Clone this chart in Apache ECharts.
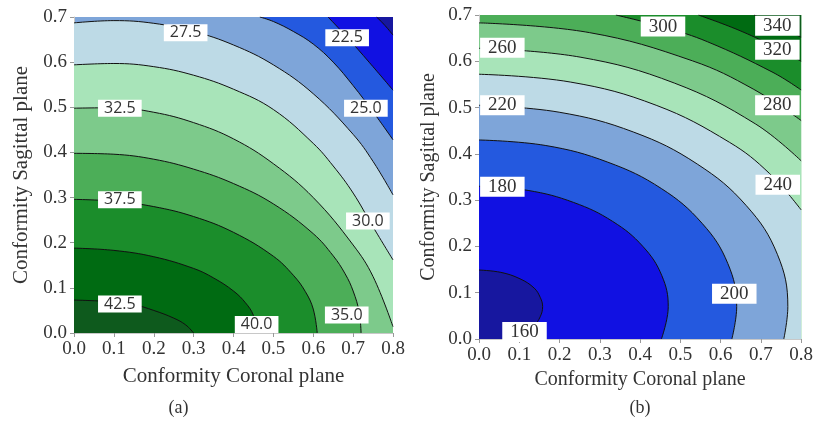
<!DOCTYPE html>
<html>
<head>
<meta charset="utf-8">
<script src="https://cdn.jsdelivr.net/npm/echarts@6/dist/echarts.min.js"></script>
<style>
html,body{margin:0;padding:0;background:#fff;}
#chart{width:816px;height:423px;}
</style>
</head>
<body>
<div id="chart"></div>
<script>
// ---------- Panel (a): contour lines [x, y] ----------
const contourA_20_0 = [[0.759,0.700],[0.780,0.681],[0.800,0.660]];
const contourA_22_5 = [[0.637,0.700],[0.685,0.655],[0.740,0.600],[0.800,0.538]];
const contourA_25_0 = [[0.466,0.700],[0.500,0.690],[0.550,0.668],[0.600,0.640],[0.650,0.600],[0.700,0.548],[0.750,0.490],[0.800,0.428]];
const contourA_27_5 = [[0,0.687],[0.1,0.692],[0.2,0.686],[0.3,0.668],[0.4,0.638],[0.5,0.594],[0.6,0.530],[0.7,0.440],[0.75,0.380],[0.8,0.306]];
const contourA_30_0 = [[0,0.594],[0.1,0.597],[0.2,0.590],[0.3,0.571],[0.4,0.540],[0.5,0.495],[0.6,0.420],[0.65,0.370],[0.7,0.310],[0.75,0.235],[0.8,0.162]];
const contourA_32_5 = [[0,0.498],[0.1,0.499],[0.2,0.489],[0.3,0.466],[0.4,0.430],[0.5,0.375],[0.6,0.300],[0.7,0.195],[0.75,0.125],[0.8,0.014]];
const contourA_35_0 = [[0,0.398],[0.1,0.396],[0.2,0.385],[0.3,0.363],[0.4,0.331],[0.5,0.286],[0.6,0.220],[0.65,0.171],[0.68,0.131],[0.70,0.093],[0.715,0.047],[0.72,0]];
const contourA_37_5 = [[0,0.296],[0.1,0.292],[0.2,0.280],[0.3,0.258],[0.4,0.223],[0.5,0.170],[0.55,0.128],[0.58,0.092],[0.60,0.053],[0.61,0]];
const contourA_40_0 = [[0,0.188],[0.1,0.183],[0.2,0.169],[0.3,0.143],[0.35,0.122],[0.4,0.093],[0.43,0.067],[0.45,0.039],[0.46,0]];
const contourA_42_5 = [[0,0.073],[0.1,0.069],[0.15,0.063],[0.2,0.050],[0.25,0.033],[0.28,0.018],[0.30,0]];
// contour labels: [text, x, y]
const labelsA = [['27.5',0.280,0.665],['22.5',0.685,0.654],['25.0',0.732,0.498],['32.5',0.115,0.498],['30.0',0.737,0.248],['37.5',0.115,0.295],['35.0',0.684,0.040],['42.5',0.115,0.064],['40.0',0.458,0.019]];

// ---------- Panel (b) ----------
const contourB_160 = [[0,0.149],[0.054,0.144],[0.102,0.130],[0.137,0.110],[0.152,0.090],[0.158,0.070],[0.152,0.048],[0.137,0.030],[0.102,0.010],[0.073,0]];
const contourB_180 = [[0,0.330],[0.122,0.321],[0.235,0.295],[0.332,0.254],[0.407,0.200],[0.454,0.137],[0.470,0.070],[0.453,0]];
const contourB_200 = [[0,0.430],[0.166,0.418],[0.320,0.382],[0.453,0.325],[0.554,0.250],[0.618,0.163],[0.640,0.070],[0.628,0]];
const contourB_220 = [[0,0.505],[0.199,0.490],[0.384,0.447],[0.542,0.378],[0.664,0.288],[0.741,0.183],[0.767,0.070],[0.757,0]];
const contourB_240 = [[0,0.572],[0.228,0.555],[0.440,0.505],[0.622,0.425],[0.721,0.358],[0.800,0.279]];
const contourB_260 = [[0,0.628],[0.251,0.609],[0.485,0.553],[0.686,0.465],[0.800,0.385]];
const contourB_280 = [[0,0.683],[0.274,0.662],[0.530,0.601],[0.681,0.540],[0.800,0.472]];
const contourB_300 = [[0.340,0.700],[0.462,0.673],[0.568,0.642],[0.730,0.576],[0.800,0.538]];
const contourB_320 = [[0.545,0.700],[0.643,0.668],[0.730,0.633],[0.800,0.600]];
const contourB_340 = [[0.683,0.700],[0.734,0.680],[0.800,0.652]];
const labelsB = [['300',0.457,0.675],['340',0.741,0.677],['320',0.741,0.625],['260',0.058,0.629],['280',0.741,0.505],['220',0.058,0.505],['240',0.742,0.333],['180',0.058,0.329],['200',0.634,0.098],['160',0.113,0.015]];

// band colours, low value -> high value
const bandColors = ['#17179f','#1111e2','#2459df','#7ea5d9','#bddae6','#a8e4b9','#7dca8b','#4cae58','#1b8d2b','#006b12','#0e5a1d'];

const xTicks = {min:0, max:0.8, interval:0.1};
const yTicks = {min:0, max:0.7, interval:0.1};
const axisTitleX = 'Conformity Coronal plane';
const axisTitleY = 'Conformity Sagittal plane';

const SERIF = '"Liberation Serif", "Times New Roman", serif';

function contourSeries(idx, data, color, origin) {
  return {
    type: 'line', xAxisIndex: idx, yAxisIndex: idx, data: data,
    smooth: 0.4, showSymbol: false, symbol: 'none', silent: true,
    lineStyle: {color: '#111', width: 1},
    areaStyle: {color: color, opacity: 1, origin: origin},
    z: 2, animation: false
  };
}
function labelSeries(idx, labels, font, size, pad) {
  return {
    type: 'scatter', xAxisIndex: idx, yAxisIndex: idx, symbolSize: 0, z: 10, silent: true,
    itemStyle: {opacity: 1, color: '#fff'},
    data: labels.map(d => [d[1], d[2], d[0]]),
    label: {show: true, position: 'inside', formatter: p => p.value[2], opacity: 1,
      backgroundColor: '#ffffff', padding: pad, fontFamily: font, fontSize: size,
      color: '#333', lineHeight: size}
  };
}

const series = [
  // panel (a): background = band 25–27.5; outer bands filled above, inner below
  contourSeries(0, contourA_25_0, bandColors[2], 'end'),
  contourSeries(0, contourA_22_5, bandColors[1], 'end'),
  contourSeries(0, contourA_20_0, bandColors[0], 'end'),
  contourSeries(0, contourA_27_5, bandColors[4], 'start'),
  contourSeries(0, contourA_30_0, bandColors[5], 'start'),
  contourSeries(0, contourA_32_5, bandColors[6], 'start'),
  contourSeries(0, contourA_35_0, bandColors[7], 'start'),
  contourSeries(0, contourA_37_5, bandColors[8], 'start'),
  contourSeries(0, contourA_40_0, bandColors[9], 'start'),
  contourSeries(0, contourA_42_5, bandColors[10], 'start'),
  labelSeries(0, labelsA, '"Open Sans", sans-serif', 16, [1,6,0,6]),
  // panel (b): background = band 280–300
  contourSeries(1, contourB_300, bandColors[8], 'end'),
  contourSeries(1, contourB_320, bandColors[9], 'end'),
  contourSeries(1, contourB_340, bandColors[10], 'end'),
  contourSeries(1, contourB_280, bandColors[6], 'start'),
  contourSeries(1, contourB_260, bandColors[5], 'start'),
  contourSeries(1, contourB_240, bandColors[4], 'start'),
  contourSeries(1, contourB_220, bandColors[3], 'start'),
  contourSeries(1, contourB_200, bandColors[2], 'start'),
  contourSeries(1, contourB_180, bandColors[1], 'start'),
  contourSeries(1, contourB_160, bandColors[0], 'start'),
  labelSeries(1, labelsB, SERIF, 19, [1,8,0,8])
];

function xAxis(idx, gap, size) {
  return {
    type: 'value', gridIndex: idx, min: xTicks.min, max: xTicks.max, interval: xTicks.interval,
    name: axisTitleX, nameLocation: 'middle', nameGap: gap,
    nameTextStyle: {fontFamily: SERIF, fontSize: size, color: '#333'},
    axisLine: {show: true, lineStyle: {color: '#c8c8c8'}},
    axisTick: {show: true, length: 4, lineStyle: {color: '#999'}},
    axisLabel: {fontFamily: SERIF, fontSize: 19, color: '#333', margin: 7, formatter: v => v.toFixed(1)},
    splitLine: {show: false}
  };
}
function yAxis(idx, gap, size) {
  return {
    type: 'value', gridIndex: idx, min: yTicks.min, max: yTicks.max, interval: yTicks.interval,
    name: axisTitleY, nameLocation: 'middle', nameGap: gap, nameRotate: 90,
    nameTextStyle: {fontFamily: SERIF, fontSize: size, color: '#333'},
    axisLine: {show: true, lineStyle: {color: '#c8c8c8'}},
    axisTick: {show: true, length: 4, lineStyle: {color: '#999'}},
    axisLabel: {fontFamily: SERIF, fontSize: 19, color: '#333', margin: 7, formatter: v => v.toFixed(1)},
    splitLine: {show: false}
  };
}

const chart = echarts.init(document.getElementById('chart'), null, {renderer: 'canvas'});
chart.setOption({
  animation: false,
  backgroundColor: '#fff',
  grid: [
    {left: 74, top: 17, width: 319, height: 316, show: true, backgroundColor: bandColors[3], borderWidth: 0},
    {left: 479, top: 15, width: 325, height: 324, show: true, backgroundColor: bandColors[7], borderWidth: 0}
  ],
  xAxis: [xAxis(0, 33, 21), xAxis(1, 31, 20)],
  yAxis: [yAxis(0, 42, 21), yAxis(1, 40, 20)],
  series: series,
  graphic: [
    {type: 'text', x: 178.5, y: 408, style: {text: '(a)', fontFamily: SERIF, fontSize: 18, fill: '#333', align: 'center', verticalAlign: 'middle'}},
    {type: 'text', x: 640, y: 408, style: {text: '(b)', fontFamily: SERIF, fontSize: 18, fill: '#333', align: 'center', verticalAlign: 'middle'}}
  ]
});
</script>
</body>
</html>
